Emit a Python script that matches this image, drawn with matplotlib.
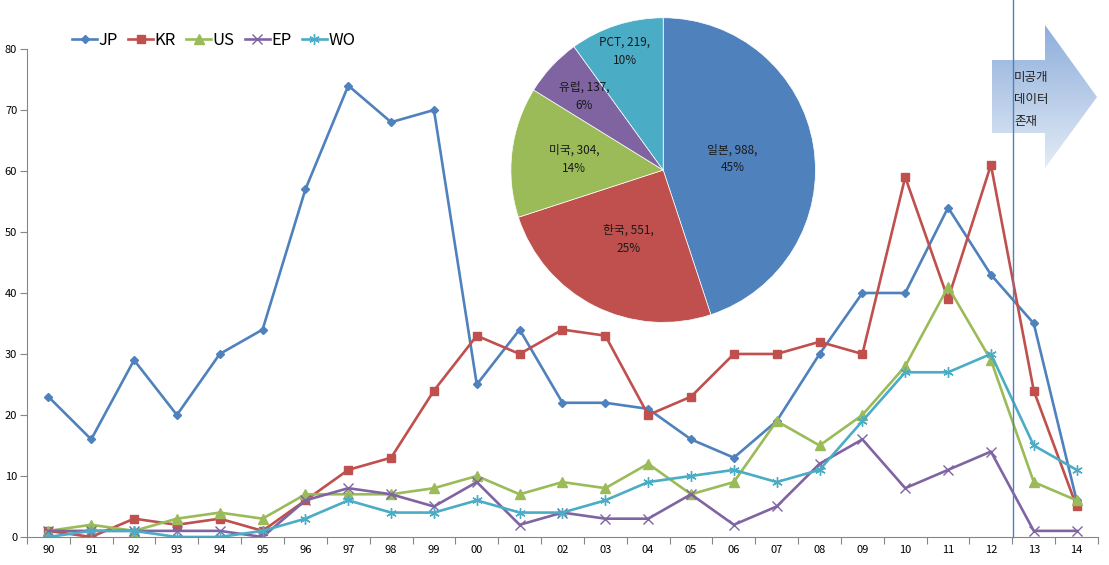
import numpy as np
import matplotlib
matplotlib.use('Agg')
import matplotlib.pyplot as plt
from matplotlib.patches import Polygon

plt.rcParams['font.family'] = ['Noto Sans CJK KR', 'DejaVu Sans']

# yearly counts per office
years = ['90', '91', '92', '93', '94', '95', '96', '97', '98', '99', '00', '01', '02',
         '03', '04', '05', '06', '07', '08', '09', '10', '11', '12', '13', '14']
jp = [23, 16, 29, 20, 30, 34, 57, 74, 68, 70, 25, 34, 22, 22, 21, 16, 13, 19, 30, 40, 40, 54, 43, 35, 6]
kr = [1, 0, 3, 2, 3, 1, 6, 11, 13, 24, 33, 30, 34, 33, 20, 23, 30, 30, 32, 30, 59, 39, 61, 24, 5]
us = [1, 2, 1, 3, 4, 3, 7, 7, 7, 8, 10, 7, 9, 8, 12, 7, 9, 19, 15, 20, 28, 41, 29, 9, 6]
ep = [1, 1, 1, 1, 1, 0, 6, 8, 7, 5, 9, 2, 4, 3, 3, 7, 2, 5, 12, 16, 8, 11, 14, 1, 1]
wo = [0, 1, 1, 0, 0, 1, 3, 6, 4, 4, 6, 4, 4, 6, 9, 10, 11, 9, 11, 19, 27, 27, 30, 15, 11]

# totals for the pie
pie_names = ['일본', '한국', '미국', '유럽', 'PCT']
pie_values = [988, 551, 304, 137, 219]

colors = ['#4F81BD', '#C0504D', '#9BBB59', '#8064A2', '#4BACC6']

fig = plt.figure(figsize=(11.09, 5.65), dpi=100)
ax = fig.add_axes([0.0243, 0.0496, 0.9658, 0.8637])

x = np.arange(len(years))
series = [('JP', jp, 'D', 4.5), ('KR', kr, 's', 6), ('US', us, '^', 6.5),
          ('EP', ep, 'x', 6.5), ('WO', wo, (6, 2, 0), 7.5)]
for (name, vals, mk, ms), c in zip(series, colors):
    ax.plot(x, vals, color=c, lw=1.9, marker=mk, ms=ms, mec=c, mfc=c,
            mew=1.0, label=name)

ax.set_xlim(-0.5, len(years) - 0.5)
ax.set_ylim(0, 80)
ax.set_yticks(range(0, 81, 10))
ax.set_xticks(np.arange(-0.5, len(years), 1))
ax.set_xticklabels([])
ax.set_xticks(x, minor=True)
ax.set_xticklabels(years, minor=True)
ax.tick_params(axis='x', which='major', length=5, color='#868686', direction='out')
ax.tick_params(axis='x', which='minor', length=0, labelsize=8, pad=6)
ax.tick_params(axis='y', length=5, color='#868686', labelsize=8, pad=2)
for s in ['top', 'right']:
    ax.spines[s].set_visible(False)
for s in ['left', 'bottom']:
    ax.spines[s].set_color('#868686')

ax.legend(loc='center left', bbox_to_anchor=(0.065, 0.929), bbox_transform=fig.transFigure,
          ncol=5, frameon=False, fontsize=12, handlelength=1.5, handletextpad=0.1,
          columnspacing=0.6, borderpad=0, borderaxespad=0)

# overlay in pixel coords for arrow and the divider line
ov = fig.add_axes([0, 0, 1, 1], zorder=3)
ov.set_xlim(0, 1109)
ov.set_ylim(565, 0)
ov.axis('off')
arrow = Polygon([(992, 60), (1045, 60), (1045, 25), (1097, 97), (1045, 168),
                 (1045, 133), (992, 133)], closed=True, facecolor='none', edgecolor='none')
ov.add_patch(arrow)
grad = np.linspace(0, 1, 256).reshape(-1, 1)
cmap = matplotlib.colors.LinearSegmentedColormap.from_list('g', ['#8DAEDB', '#E3EBF6'])
im = ov.imshow(grad, cmap=cmap, extent=(992, 1097, 168, 25), aspect='auto', zorder=1)
im.set_clip_path(arrow)
ov.plot([1013, 1013], [0, 537], color='#4F81BD', lw=1, zorder=2)
for i, t in enumerate(['미공개', '데이터', '존재']):
    ov.text(1014, 78 + i * 22, t, fontsize=9, va='center', ha='left', color='#222222', zorder=3)

# pie inset
pax = fig.add_axes([0.46, 0.428, 0.276, 0.542], zorder=2)
total = sum(pie_values)
wedges, _ = pax.pie(pie_values, colors=colors, startangle=90, counterclock=False,
                    wedgeprops=dict(edgecolor='white', linewidth=0.5))
pax.set_xlim(-1.005, 1.005)
pax.set_ylim(-1.005, 1.005)
pax.set_aspect('equal')
label_r = [0.46, 0.51, 0.59, 0.71, 0.82]
for w, n, v, r in zip(wedges, pie_names, pie_values, label_r):
    ang = np.deg2rad((w.theta1 + w.theta2) / 2)
    pax.text(r * np.cos(ang), r * np.sin(ang), f'{n}, {v},\n{round(100 * v / total)}%',
             ha='center', va='center', fontsize=8.5, color='#1a1a1a', linespacing=1.5)

fig.savefig('out.png', dpi=100)
